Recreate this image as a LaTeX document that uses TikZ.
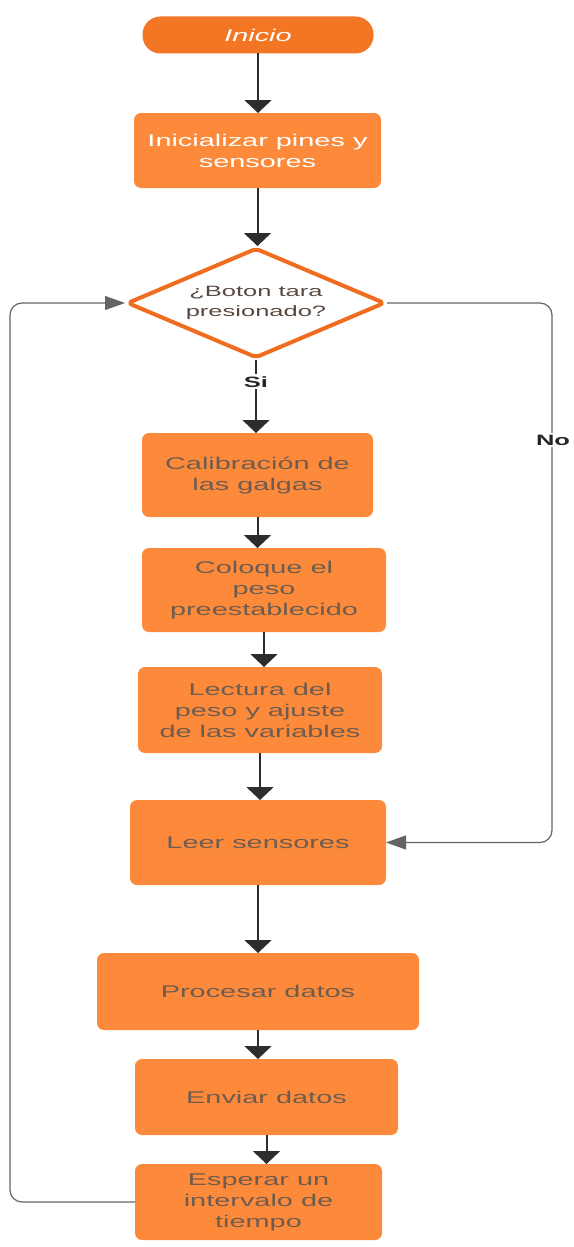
\documentclass[tikz,border=0pt]{standalone}
\usepackage{fontspec}
\setmainfont{Liberation Sans}[FakeStretch=1.7]
\usetikzlibrary{shapes.geometric,arrows.meta}
\definecolor{boxor}{RGB}{253,138,58}
\definecolor{startor}{RGB}{243,118,36}
\definecolor{diaor}{RGB}{240,108,30}
\definecolor{txtgray}{RGB}{110,92,80}
\definecolor{arrdark}{RGB}{45,45,45}
\definecolor{loopgray}{RGB}{100,100,100}
\tikzset{
  proc/.style={rectangle, rounded corners=7pt, fill=boxor, text=txtgray, align=center,
    font=\fontsize{17}{21}\selectfont, inner sep=0pt, outer sep=0pt},
  startnode/.style={rectangle, rounded corners=18pt, fill=startor, text=white,
    font=\fontsize{17}{21}\selectfont\itshape, inner sep=0pt, outer sep=0pt},
  decnode/.style={diamond, aspect=2.345, draw=diaor, line width=4pt, fill=white, rounded corners=4pt,
    text=txtgray!80!black, align=center, font=\fontsize{15}{20}\selectfont, inner sep=0pt,
    line join=round},
  arr/.style={draw=arrdark, line width=2pt, -{Triangle[length=13pt,width=27pt]}},
  loopline/.style={draw=loopgray, line width=1.2pt, rounded corners=12pt,
    -{Triangle[length=20pt,width=14pt]}},
  lbl/.style={font=\fontsize{15}{18}\selectfont\bfseries, text=black!85, inner sep=2pt}
}
\begin{document}
\begin{tikzpicture}[x=1pt,y=1pt]
\useasboundingbox (0,0) rectangle (573,-1247);
\node[startnode, minimum width=231pt, minimum height=37pt] (ini) at (258,-35) {Inicio};
\node[proc, text=white, minimum width=247pt, minimum height=75pt] (init) at (257.5,-150.5) {Inicializar pines y\\sensores};
\node[decnode, minimum width=258pt, minimum height=110pt] (dia) at (256,-303) {¿Boton tara\\presionado?};
\node[proc, minimum width=231pt, minimum height=84pt] (cal) at (257.5,-475) {Calibración de\\las galgas};
\node[proc, minimum width=244pt, minimum height=84pt] (col) at (264,-590) {Coloque el\\peso\\preestablecido};
\node[proc, minimum width=244pt, minimum height=86pt] (lec) at (260,-710) {Lectura del\\peso y ajuste\\de las variables};
\node[proc, minimum width=256pt, minimum height=85pt] (leer) at (258,-842.5) {Leer sensores};
\node[proc, minimum width=322pt, minimum height=77pt] (proc) at (258,-991.5) {Procesar datos};
\node[proc, minimum width=263pt, minimum height=76pt] (env) at (266.5,-1097) {Enviar datos};
\node[proc, minimum width=247pt, minimum height=76pt] (esp) at (258.5,-1202) {Esperar un\\intervalo de\\tiempo};
\coordinate (lx) at (10,0);
\coordinate (rx) at (552,0);
\draw[arr] (ini.south) -- (ini.south |- init.north);
\draw[arr] (init.south) -- (init.south |- dia.north);
\draw[arr] (dia.south) -- (dia.south |- cal.north) node[pos=0.3, fill=white, lbl] (si) {Si};
\draw[arr] (cal.south) -- (cal.south |- col.north);
\draw[arr] (col.south) -- (col.south |- lec.north);
\draw[arr] (lec.south) -- (lec.south |- leer.north);
\draw[arr] (leer.south) -- (leer.south |- proc.north);
\draw[arr] (proc.south) -- (proc.south |- env.north);
\draw[arr] (env.south) -- (env.south |- esp.north);
\draw[loopline] (dia.east) -- (dia.east -| rx) -- (leer.east -| rx) -- (leer.east);
\node[lbl, fill=white] (no) at (553,-440) {No};
\draw[loopline] (esp.west) -- (esp.west -| lx) -- (dia.west -| lx) -- (dia.west);
\end{tikzpicture}
\end{document}
